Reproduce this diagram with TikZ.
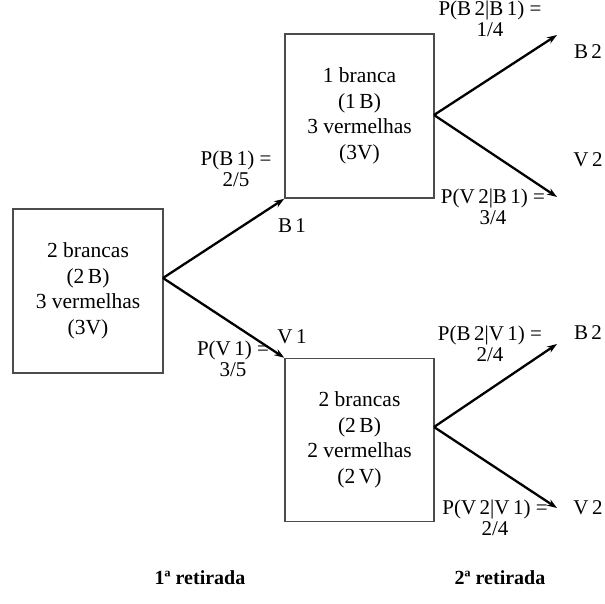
\documentclass[tikz,border=0pt]{standalone}
\usepackage{fontspec}
\setmainfont{Liberation Serif}
\usetikzlibrary{arrows.meta}
\begin{document}
\begin{tikzpicture}[x=1pt,y=-1pt,
  box/.style={draw=black!70,line width=1.6pt,inner sep=0pt,align=center,font=\fontsize{21.5}{25.5}\selectfont},
  lbl/.style={inner sep=0pt,align=center,font=\fontsize{21}{21.5}\selectfont},
  arr/.style={line width=2.3pt,-{Stealth[length=10pt,width=7pt]}},
  foot/.style={inner sep=0pt,font=\fontsize{20}{21}\selectfont\bfseries}]
\useasboundingbox (0,0) rectangle (605,603);
% boxes
\node[box,minimum width=150pt,minimum height=164pt] (A) at (88,291) {2 brancas\\(2\,B)\\3 vermelhas\\(3V)};
\node[box,minimum width=149pt,minimum height=164pt] (Bb) at (359.5,116) {1 branca\\(1\,B)\\3 vermelhas\\(3V)};
\node[box,minimum width=149pt,minimum height=163pt] (Vb) at (359.5,440) {2 brancas\\(2\,B)\\2 vermelhas\\(2\,V)};
% branch points
\coordinate (a0) at (163,278);
\coordinate (b0) at (434,115);
\coordinate (v0) at (434,427);
\coordinate (b2t) at (557,35);
\coordinate (v2t) at (557,197);
\coordinate (b2v) at (557,344);
\coordinate (v2v) at (557,508);
% arrows
\draw[arr] (a0) -- (Bb.south west);
\draw[arr] (a0) -- (Vb.north west);
\draw[arr] (b0) -- (b2t);
\draw[arr] (b0) -- (v2t);
\draw[arr] (v0) -- (b2v);
\draw[arr] (v0) -- (v2v);
% labels
\node[lbl] (pb1) at (236,169) {P(B\,1) =\\2/5};
\node[lbl] (nb1) at (292,226) {B\,1};
\node[lbl] (nv1) at (292,337) {V\,1};
\node[lbl] (pv1) at (233,359) {P(V\,1) =\\3/5};
\node[lbl] (pb2b1) at (490,19) {P(B\,2|B\,1) =\\1/4};
\node[lbl] (nb2a) at (588,52) {B\,2};
\node[lbl] (nv2a) at (588,160) {V\,2};
\node[lbl] (pv2b1) at (493,207) {P(V\,2|B\,1) =\\3/4};
\node[lbl] (pb2v1) at (490,344) {P(B\,2|V\,1) =\\2/4};
\node[lbl] (nb2b) at (588,333) {B\,2};
\node[lbl] (pv2v1) at (495,518) {P(V\,2|V\,1) =\\2/4};
\node[lbl] (nv2b) at (588,508) {V\,2};
\node[foot] (r1) at (200,578) {1ª retirada};
\node[foot] (r2) at (500,578) {2ª retirada};
\end{tikzpicture}
\end{document}
